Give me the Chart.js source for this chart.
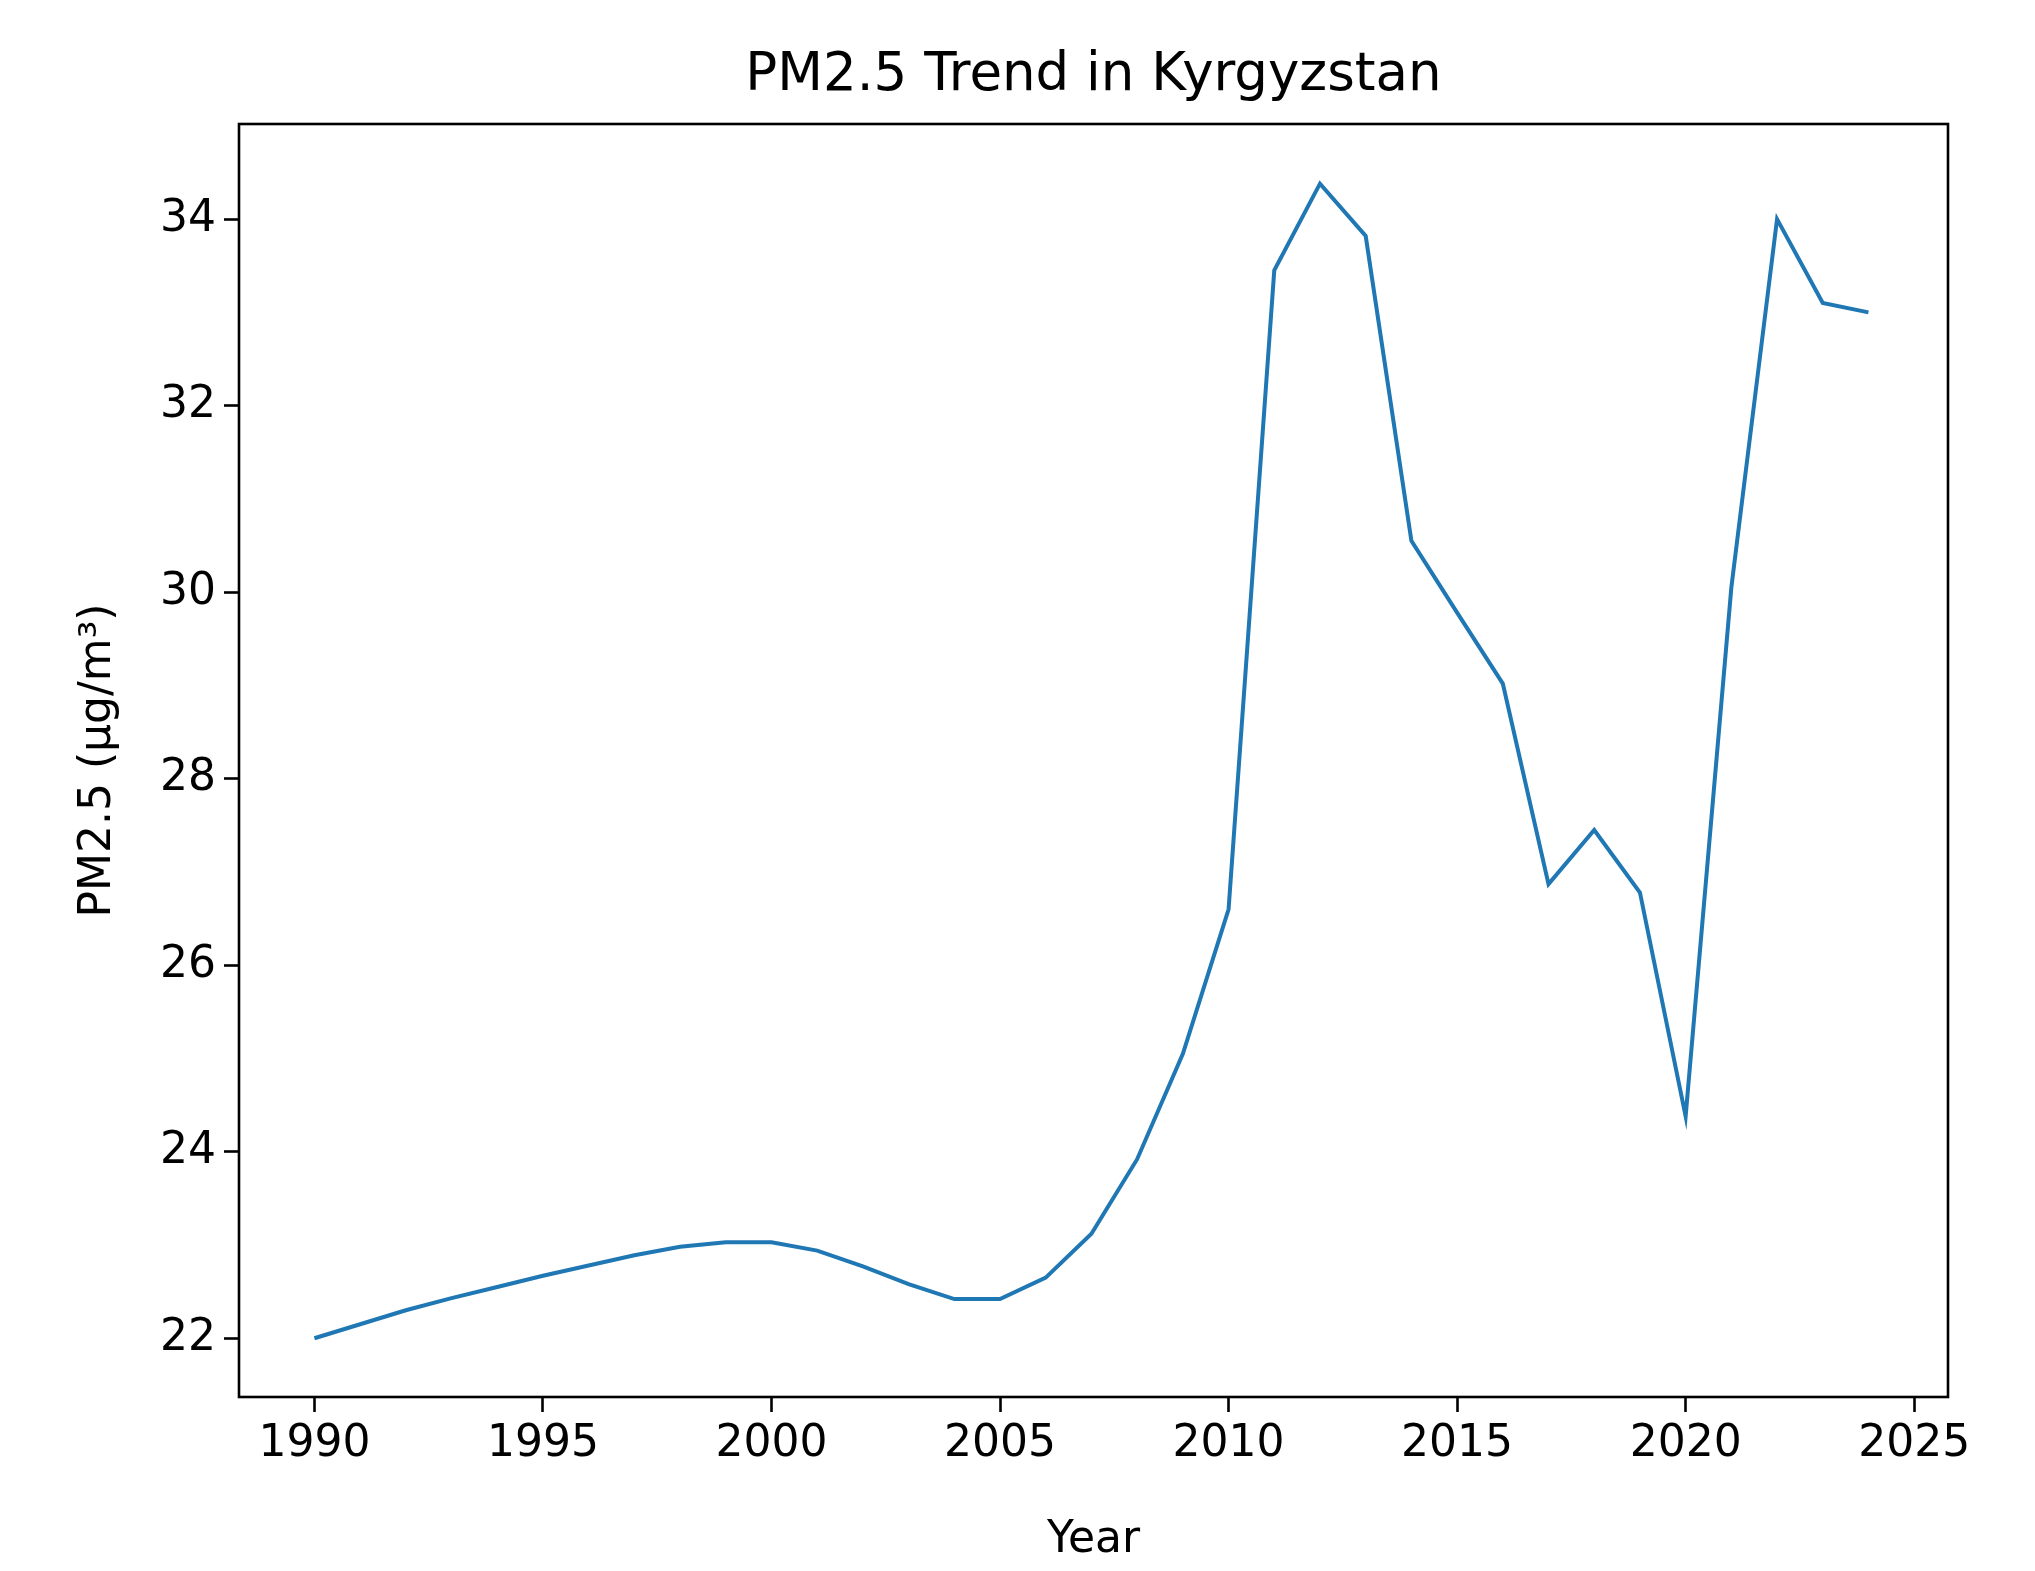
<!DOCTYPE html>
<html><head><meta charset="utf-8">
<script src="https://cdn.jsdelivr.net/npm/chart.js@4"></script>
<style>html,body{margin:0;padding:0;background:#fff}</style>
</head><body>
<canvas id="c" width="2035" height="1571" style="width:2035px;height:1571px"></canvas>
<script>
const years = [1990,1991,1992,1993,1994,1995,1996,1997,1998,1999,2000,2001,2002,2003,2004,2005,2006,2007,2008,2009,2010,2011,2012,2013,2014,2015,2016,2017,2018,2019,2020,2021,2022,2023,2024];
const pm25 = [22.0,22.15,22.3,22.43,22.55,22.67,22.78,22.89,22.98,23.03,23.03,22.94,22.77,22.58,22.42,22.42,22.65,23.12,23.92,25.05,26.6,33.45,34.38,33.82,30.55,29.78,29.02,26.87,27.45,26.78,24.38,30.05,34.0,33.1,33.0];
const xTicks = [1990,1995,2000,2005,2010,2015,2020,2025];
const yTicks = [22,24,26,28,30,32,34];
const font = "'DejaVu Sans'";
const frame = {id:'frame', afterDraw(ch){const a=ch.chartArea,c=ch.ctx;c.save();c.strokeStyle='#000';c.lineWidth=2.6;c.strokeRect(a.left,a.top,a.right-a.left,a.bottom-a.top);
c.fillStyle='#000';c.font="53px "+font;c.textAlign='center';c.textBaseline='middle';c.fillText('PM2.5 Trend in Kyrgyzstan',(a.left+a.right)/2,76);c.restore();}};
new Chart(document.getElementById('c'),{type:'line',
data:{datasets:[{data:years.map((y,i)=>({x:y,y:pm25[i]})),borderColor:'#1f77b4',borderWidth:4,pointRadius:0,tension:0}]},
options:{responsive:false,animation:false,devicePixelRatio:1,layout:{padding:{top:124,right:87,left:68,bottom:0}},
plugins:{legend:{display:false},tooltip:{enabled:false}},
scales:{
x:{type:'linear',min:1988.35,max:2025.74,afterBuildTicks:s=>{s.ticks=xTicks.map(v=>({value:v}))},afterFit:s=>{s.height=174},
 grid:{display:true,drawOnChartArea:false,drawTicks:true,tickLength:15,tickWidth:2.6,tickColor:'#000'},border:{display:false},
 ticks:{font:{family:font,size:44},color:'#000',padding:6,maxRotation:0,callback:v=>String(v)},
 title:{display:true,text:'Year',font:{family:font,size:44},color:'#000',padding:{top:0}}},
y:{type:'linear',min:21.37,max:35.02,afterBuildTicks:s=>{s.ticks=yTicks.map(v=>({value:v}))},afterFit:s=>{s.width=171},
 grid:{display:true,drawOnChartArea:false,drawTicks:true,tickLength:15,tickWidth:2.6,tickColor:'#000'},border:{display:false},
 ticks:{font:{family:font,size:44},color:'#000',padding:8,callback:v=>String(v)},
 title:{display:true,text:'PM2.5 (µg/m³)',font:{family:font,size:44},color:'#000',padding:{bottom:4}}}}},
plugins:[frame]});
</script></body></html>
